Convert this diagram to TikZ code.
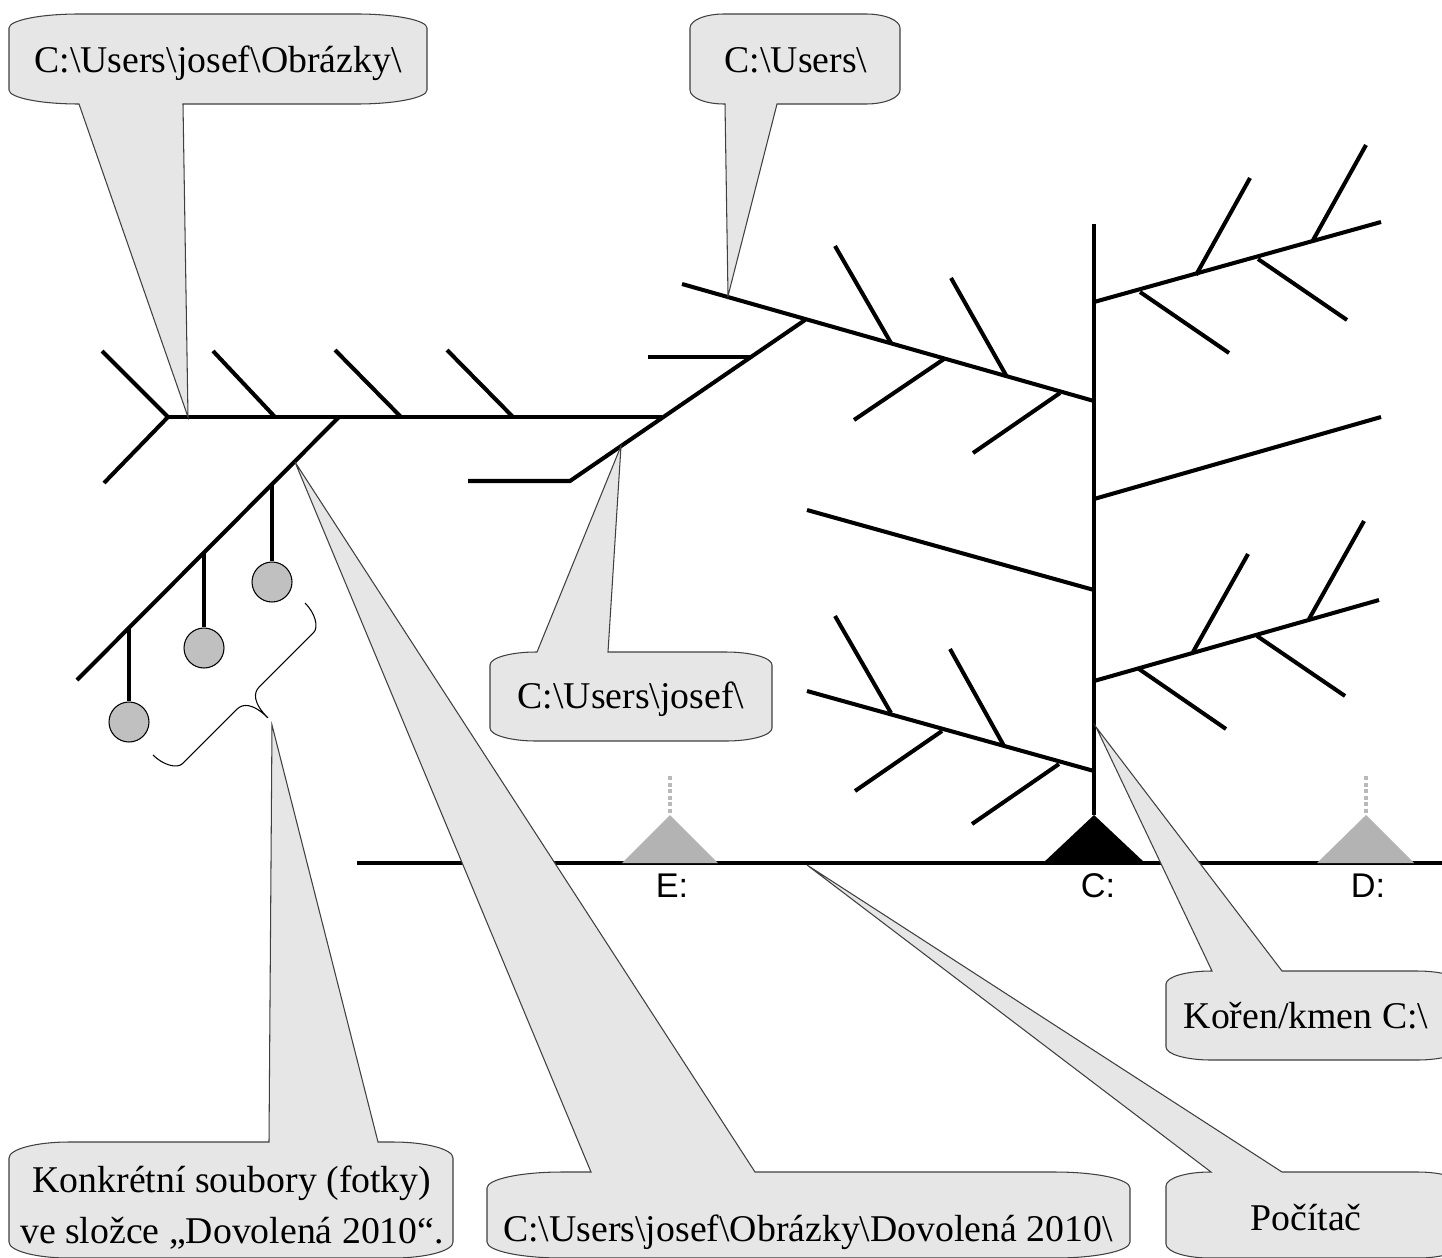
\documentclass[tikz,border=0pt]{standalone}
\usepackage{fontspec}
\setmainfont{Liberation Serif}
\newfontfamily\lsans{Liberation Sans}
\definecolor{calfill}{RGB}{230,230,230}
\definecolor{filegray}{RGB}{192,192,192}
\definecolor{drivegray}{RGB}{179,179,179}
\definecolor{dotgray}{RGB}{185,185,185}
% callout with pointer leaving the top edge: L,T,R,B,rx,ry,a,b,tip
\newcommand\calloutTop[9]{%
 \pgfmathsetmacro\kx{0.552*#5}\pgfmathsetmacro\ky{0.552*#6}%
 \draw[callout] (#7,#2) -- (#9) -- (#8,#2) -- ({#3-#5},#2)
  .. controls ({#3-#5+\kx},#2) and (#3,{#2+#6-\ky}) .. (#3,{#2+#6})
  -- (#3,{#4-#6}) .. controls (#3,{#4-#6+\ky}) and ({#3-#5+\kx},#4) .. ({#3-#5},#4)
  -- ({#1+#5},#4) .. controls ({#1+#5-\kx},#4) and (#1,{#4-#6+\ky}) .. (#1,{#4-#6})
  -- (#1,{#2+#6}) .. controls (#1,{#2+#6-\ky}) and ({#1+#5-\kx},#2) .. ({#1+#5},#2)
  -- cycle;}
% callout with pointer leaving the bottom edge
\newcommand\calloutBot[9]{%
 \pgfmathsetmacro\kx{0.552*#5}\pgfmathsetmacro\ky{0.552*#6}%
 \draw[callout] (#8,#4) -- (#9) -- (#7,#4) -- ({#1+#5},#4)
  .. controls ({#1+#5-\kx},#4) and (#1,{#4-#6+\ky}) .. (#1,{#4-#6})
  -- (#1,{#2+#6}) .. controls (#1,{#2+#6-\ky}) and ({#1+#5-\kx},#2) .. ({#1+#5},#2)
  -- ({#3-#5},#2) .. controls ({#3-#5+\kx},#2) and (#3,{#2+#6-\ky}) .. (#3,{#2+#6})
  -- (#3,{#4-#6}) .. controls (#3,{#4-#6+\ky}) and ({#3-#5+\kx},#4) .. ({#3-#5},#4)
  -- cycle;}
\begin{document}
\begin{tikzpicture}[x=0.02cm,y=-0.02cm,
  twig/.style={line width=2.3pt},
  callout/.style={fill=calfill, draw=black!75, line width=0.6pt, line join=miter},
  ctext/.style={font=\fontsize{21.5pt}{29pt}\selectfont, inner sep=0pt, anchor=base},
  drive/.style={font=\lsans\fontsize{19.5pt}{22pt}\selectfont, inner sep=0pt},
  file/.style={circle, fill=filegray, draw=black, line width=0.6pt, minimum size=0.8cm, inner sep=0pt},
  dotstem/.style={draw=dotgray, line width=2.2pt, dash pattern=on 2.4pt off 1.3pt}]
\path[use as bounding box, clip] (0,0) rectangle (1442,1257);
\fill[white] (0,0) rectangle (1442,1257);

% ---------- left part (folders) ----------
\draw[twig] (102,351) -- (168,417) -- (104,483);
\draw[twig] (168,417) -- (662,417);
\draw[twig] (275,417) -- (213,351);
\draw[twig] (401,417) -- (335,350);
\draw[twig] (513,417) -- (447,350);
\draw[twig] (339,417) -- (77,680);
\draw[twig] (468,481) -- (570,481) -- (805,320);
\draw[twig] (648,357) -- (751,357);

% files
\node[file] (f1) at (272,582) {};
\node[file] (f2) at (204,648) {};
\node[file] (f3) at (129,722) {};
\draw[twig] (272,485) -- (f1.north);
\draw[twig] (204,553) -- (f2.north);
\draw[twig] (129,628) -- (f3.north);

% brace (drawn in a local frame along the chord)
\coordinate (bS) at (153,755);
\begin{scope}[shift={(bS)}, x={(0.014142cm,0.014142cm)}, y={(0.014142cm,-0.014142cm)}]
\draw[line width=0.6pt] (0,0) .. controls (0,14) and (7,27) .. (15,27) -- (92,27)
  .. controls (100,27) and (107.5,34) .. (107.5,55)
  .. controls (107.5,34) and (115,27) .. (123,27) -- (200,27)
  .. controls (208,27) and (215,14) .. (215,0);
\end{scope}

% ---------- upper left branch ----------
\draw[twig] (682,284) -- (1094,401);
\draw[twig] (891,343) -- (835,246);
\draw[twig] (944,359) -- (854,420);
\draw[twig] (1007,377) -- (951,278);
\draw[twig] (1060,393) -- (973,453);

% ---------- trunk ----------
\draw[twig] (1094,224) -- (1094,815);

% upper right branch
\draw[twig] (1094,302) -- (1381,222);
\draw[twig] (1196,275) -- (1250,178);
\draw[twig] (1140,292) -- (1229,353);
\draw[twig] (1312,242) -- (1366,145);
\draw[twig] (1258,259) -- (1347,320);

% middle branches
\draw[twig] (1094,499) -- (1381,417);
\draw[twig] (807,510) -- (1094,590);

% lower right branch
\draw[twig] (1094,681) -- (1379,600);
\draw[twig] (1193,652) -- (1248,554);
\draw[twig] (1139,669) -- (1226,729);
\draw[twig] (1309,619) -- (1364,521);
\draw[twig] (1257,636) -- (1345,696);

% lower left branch
\draw[twig] (807,691) -- (1094,771);
\draw[twig] (891,713) -- (835,616);
\draw[twig] (942,731) -- (855,791);
\draw[twig] (1004,746) -- (950,649);
\draw[twig] (1059,764) -- (972,824);

% ---------- ground and drives ----------
\draw[twig] (357,863) -- (1442,863);
\fill[drivegray] (622,863) -- (670,815) -- (718,863) -- cycle;
\fill[black] (1043,863) -- (1094,815) -- (1145,863) -- cycle;
\fill[drivegray] (1317,863) -- (1366,815) -- (1414,863) -- cycle;
\draw[dotstem] (670,776) -- (670,815);
\draw[dotstem] (1366,776) -- (1366,815);
\node[drive] (E) at (672,886) {E:};
\node[drive] (C) at (1098,886) {C:};
\node[drive] (D) at (1368,886) {D:};

% ---------- callouts ----------
\coordinate (tObr) at (188,417);
\coordinate (tUsr) at (728,296);
\coordinate (tJos) at (621,446);
\coordinate (tKor) at (1096,727);
\coordinate (tKon) at (272,725);
\coordinate (tDov) at (295,462);
\coordinate (tPoc) at (807,865);

\calloutBot{9}{14}{427}{104}{70}{14}{79}{183}{tObr}
\calloutBot{690}{14}{900}{104}{34}{14}{725}{777}{tUsr}
\calloutTop{490}{652}{772}{741}{46}{13}{537}{608}{tJos}
\calloutTop{1166}{971}{1462}{1060}{45}{13}{1212}{1282}{tKor}
\calloutTop{9}{1142}{453}{1258}{60}{16}{269}{378}{tKon}
\calloutTop{487}{1172}{1130}{1258}{75}{16}{591}{755}{tDov}
\calloutTop{1166}{1172}{1462}{1258}{44}{14}{1211}{1282}{tPoc}

\node[ctext] (obr) at (218,72) {C:\textbackslash Users\textbackslash josef\textbackslash Obrázky\textbackslash};
\node[ctext] (usr) at (796,72) {C:\textbackslash Users\textbackslash};
\node[ctext] (jos) at (631,708) {C:\textbackslash Users\textbackslash josef\textbackslash};
\node[ctext] (kor) at (1306,1028) {Kořen/kmen C:\textbackslash};
\node[ctext, anchor=center, align=center] (kon) at (232,1208) {Konkrétní soubory (fotky)\\ve složce „Dovolená 2010“.};
\node[ctext] (dov) at (808,1241) {C:\textbackslash Users\textbackslash josef\textbackslash Obrázky\textbackslash Dovolená 2010\textbackslash};
\node[ctext] (poc) at (1306,1230) {Počítač};
\end{tikzpicture}
\end{document}
